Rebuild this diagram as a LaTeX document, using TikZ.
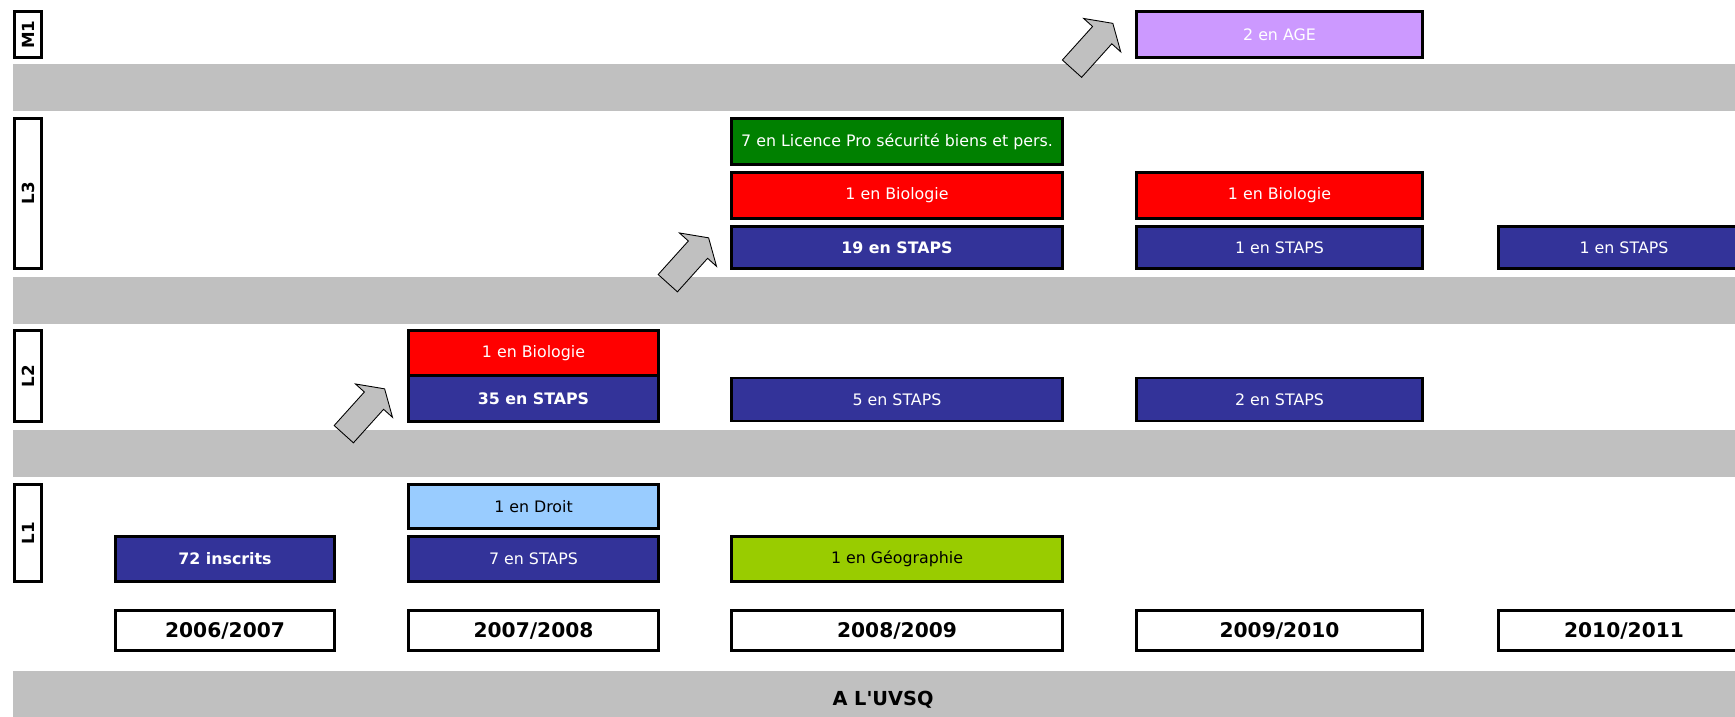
\documentclass[tikz,border=0pt]{standalone}
\usepackage{fontspec}
\setmainfont{DejaVu Sans}[Ligatures=TeXOff]
\usepackage{tikz}
\usetikzlibrary{shapes.arrows}
\definecolor{navy}{HTML}{333399}
\definecolor{biored}{HTML}{FF0000}
\definecolor{progreen}{HTML}{008000}
\definecolor{droitblue}{HTML}{99CCFF}
\definecolor{geolime}{HTML}{99CC00}
\definecolor{agelilac}{HTML}{CC99FF}
\definecolor{band}{HTML}{C0C0C0}

\begin{document}
\begin{tikzpicture}[x=0.2mm, y=-0.2mm,
  cell/.style={draw, line width=1.6pt, inner sep=0pt, minimum height=9mm, text=white, font=\fontsize{9}{11}\selectfont},
  level/.style={draw, line width=1.6pt, fill=white, inner sep=0pt, rotate=90, minimum height=5.4mm, font=\fontsize{9.5}{11}\selectfont\bfseries},
  year/.style={draw, line width=1.6pt, fill=white, inner sep=0pt, minimum height=8mm, font=\fontsize{11.5}{13}\selectfont\bfseries},
  upstep/.style={single arrow, draw, line width=0.5pt, fill=band, inner xsep=0pt, inner ysep=2.5mm, minimum width=9.8mm, minimum height=12.2mm, single arrow head extend=2.4mm, single arrow tip angle=115, rotate=48, anchor=tail},
  c1/.style={minimum width=43.8mm},
  c2/.style={minimum width=50mm},
  c3/.style={minimum width=66.2mm},
  c4/.style={minimum width=57.2mm},
  c5/.style={minimum width=50.2mm}]
\useasboundingbox (0,0) rectangle (1735,717);
\fill[band] (13,64) rectangle (1760,111);
\fill[band] (13,277) rectangle (1760,324);
\fill[band] (13,430) rectangle (1760,477);
\fill[band] (13,671) rectangle (1760,730);
\node[font=\fontsize{11}{13}\selectfont\bfseries] (uvsq) at (883,700) {A L'UVSQ};
\node[upstep] (up1) at (1071.7,69) {};
\node[upstep] (up2) at (667.5,283.5) {};
\node[upstep] (up3) at (343.5,434.5) {};
\node[level, minimum width=9.2mm] (m1) at (28,34.5) {M1};
\node[level, minimum width=30mm] (l3) at (28,193.5) {L3};
\node[level, minimum width=18.2mm] (l2) at (28,376) {L2};
\node[level, minimum width=19.4mm] (l1) at (28,533) {L1};
\node[cell, c4, fill=agelilac, minimum height=9.2mm] (age) at (1279.5,34.5) {2 en AGE};
\node[cell, c3, fill=progreen, minimum height=9.2mm] (lpro) at (897,141.5) {7 en Licence Pro sécurité biens et pers.};
\node[cell, c3, fill=biored, minimum height=9.2mm] (bio3a) at (897,195.5) {1 en Biologie};
\node[cell, c4, fill=biored, minimum height=9.2mm] (bio3b) at (1279.5,195.5) {1 en Biologie};
\node[cell, c3, fill=navy, minimum height=8.4mm] (staps3a) at (897,247.5) {\bfseries 19 en STAPS};
\node[cell, c4, fill=navy, minimum height=8.4mm] (staps3b) at (1279.5,247.5) {1 en STAPS};
\node[cell, c5, fill=navy, minimum height=8.4mm] (staps3c) at (1624,247.5) {1 en STAPS};
\node[cell, c2, fill=biored] (bio2) at (533.5,353) {1 en Biologie};
\node[cell, c2, fill=navy, minimum height=9.2mm] (staps2a) at (533.5,398.5) {\bfseries 35 en STAPS};
\node[cell, c3, fill=navy, minimum height=8.6mm] (staps2b) at (897,399.5) {5 en STAPS};
\node[cell, c4, fill=navy, minimum height=8.6mm] (staps2c) at (1279.5,399.5) {2 en STAPS};
\node[cell, c2, fill=droitblue, text=black, minimum height=8.8mm] (droit) at (533.5,506.5) {1 en Droit};
\node[cell, c1, fill=navy] (inscrits) at (225,559) {\bfseries 72 inscrits};
\node[cell, c2, fill=navy] (staps1) at (533.5,559) {7 en STAPS};
\node[cell, c3, fill=geolime, text=black] (geo) at (897,559) {1 en Géographie};
\node[year, c1] (y06) at (225,630.5) {2006/2007};
\node[year, c2] (y07) at (533.5,630.5) {2007/2008};
\node[year, c3] (y08) at (897,630.5) {2008/2009};
\node[year, c4] (y09) at (1279.5,630.5) {2009/2010};
\node[year, c5] (y10) at (1624,630.5) {2010/2011};
\end{tikzpicture}
\end{document}
